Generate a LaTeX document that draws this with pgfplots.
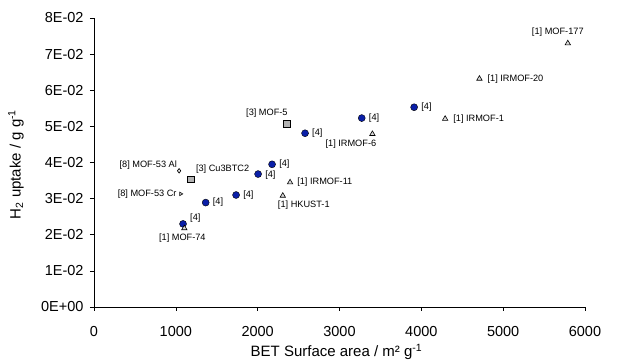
\documentclass[border=0pt]{standalone}
\usepackage{pgfplots}
\pgfplotsset{compat=1.18}
\usepackage{fontspec}
\setmainfont{Liberation Sans}
\definecolor{dotblue}{HTML}{0A1FA8}
\tikzset{lbl/.style={font=\fontsize{9.2bp}{11bp}\selectfont, inner sep=0pt}}
\begin{document}
\begin{tikzpicture}
\begin{axis}[
  name=ax,
  scale only axis,
  width=491bp, height=289bp,
  xmin=0, xmax=6000, ymin=0, ymax=0.08,
  scaled y ticks=false, scaled x ticks=false,
  axis x line*=bottom, axis y line*=left,
  axis line style={black, line width=0.6bp, -},
  tick align=outside,
  major tick length=4bp,
  tick style={black, line width=0.6bp},
  xtick={0,1000,2000,3000,4000,5000,6000},
  xticklabels={0,1000,2000,3000,4000,5000,6000},
  ytick={0,0.01,0.02,0.03,0.04,0.05,0.06,0.07,0.08},
  yticklabels={0E+00,1E-02,2E-02,3E-02,4E-02,5E-02,6E-02,7E-02,8E-02},
  /pgf/number format/assume math mode=true,
  ticklabel style={font=\fontsize{14.5bp}{16bp}\selectfont},
  xticklabel style={yshift=-12bp},
  yticklabel style={xshift=-3bp},
  xlabel={BET Surface area / m² g\textsuperscript{-1}},
  ylabel={H\textsubscript{2} uptake / g g\textsuperscript{-1}},
  label style={font=\fontsize{15bp}{17bp}\selectfont},
  xlabel style={at={(axis description cs:0.5,0)}, anchor=center, yshift=-45bp, xshift=-3bp},
  ylabel style={at={(axis description cs:0,0.5)}, anchor=center, rotate=0, yshift=78bp, xshift=-2bp},
  clip=false,
]
% [4] circles
\addplot[only marks, mark=*, mark size=3.5bp, mark options={fill=dotblue, draw=black, line width=0.4bp}]
 coordinates {(1088,0.0230) (1365,0.0289) (1736,0.0310) (2005,0.0368) (2176,0.0395) (2579,0.0481) (3272,0.0523) (3912,0.0553)};
% [1] triangles
\addplot[only marks, mark=triangle*, mark size=3.1bp, mark options={fill=gray!30, draw=black, line width=0.6bp}]
 coordinates {(5790,0.0730) (4710,0.0632) (4291,0.0521) (3402,0.0479) (2396,0.0345) (2307,0.0308) (1104,0.0218)};
% [3] squares
\addplot[only marks, mark=square*, mark size=3.2bp, mark options={fill=gray!60, draw=black, line width=0.5bp}]
 coordinates {(2356,0.0507) (1183,0.0354)};
% [8] MOF-53 Al
\addplot[only marks, mark=diamond, mark size=2.2bp, mark options={draw=black, line width=0.7bp}]
 coordinates {(1040,0.0377)};
% [8] MOF-53 Cr
\addplot[only marks, mark=triangle, mark size=2bp, mark options={draw=black, line width=0.6bp, rotate=-90}]
 coordinates {(1060,0.0313)};

% labels
\node[lbl, anchor=west] at (axis cs:1088,0.0230) [xshift=7bp, yshift=6bp] {[4]};
\node[lbl, anchor=west] at (axis cs:1365,0.0289) [xshift=7bp] {[4]};
\node[lbl, anchor=west] at (axis cs:1736,0.0310) [xshift=7bp] {[4]};
\node[lbl, anchor=west] at (axis cs:2005,0.0368) [xshift=7bp, yshift=-1bp] {[4]};
\node[lbl, anchor=west] at (axis cs:2176,0.0395) [xshift=7bp] {[4]};
\node[lbl, anchor=west] at (axis cs:2579,0.0481) [xshift=7bp] {[4]};
\node[lbl, anchor=west] at (axis cs:3272,0.0523) [xshift=7bp] {[4]};
\node[lbl, anchor=west] at (axis cs:3912,0.0553) [xshift=7bp] {[4]};

\node[lbl, anchor=south] at (axis cs:5790,0.0730) [xshift=-10bp, yshift=7bp] {[1] MOF-177};
\node[lbl, anchor=west] at (axis cs:4710,0.0632) [xshift=8bp] {[1] IRMOF-20};
\node[lbl, anchor=west] at (axis cs:4291,0.0521) [xshift=8bp] {[1] IRMOF-1};
\node[lbl, anchor=north east] at (axis cs:3402,0.0479) [xshift=4bp, yshift=-6bp] {[1] IRMOF-6};
\node[lbl, anchor=west] at (axis cs:2396,0.0345) [xshift=7bp] {[1] IRMOF-11};
\node[lbl, anchor=north west] at (axis cs:2307,0.0308) [xshift=-5bp, yshift=-5bp] {[1] HKUST-1};
\node[lbl, anchor=north] at (axis cs:1104,0.0218) [xshift=-2bp, yshift=-5bp] {[1] MOF-74};
\node[lbl, anchor=south east] at (axis cs:2356,0.0507) [xshift=1bp, yshift=6bp] {[3] MOF-5};
\node[lbl, anchor=south west] at (axis cs:1183,0.0354) [xshift=5bp, yshift=6bp] {[3] Cu3BTC2};
\node[lbl, anchor=south east] at (axis cs:1040,0.0377) [xshift=-2bp, yshift=1bp] {[8] MOF-53 Al};
\node[lbl, anchor=east] at (axis cs:1060,0.0313) [xshift=-4bp] {[8] MOF-53 Cr};
\end{axis}
\path ([shift={(-94bp,-56bp)}]ax.south west) rectangle ([shift={(32bp,18bp)}]ax.north east);
\end{tikzpicture}
\end{document}
